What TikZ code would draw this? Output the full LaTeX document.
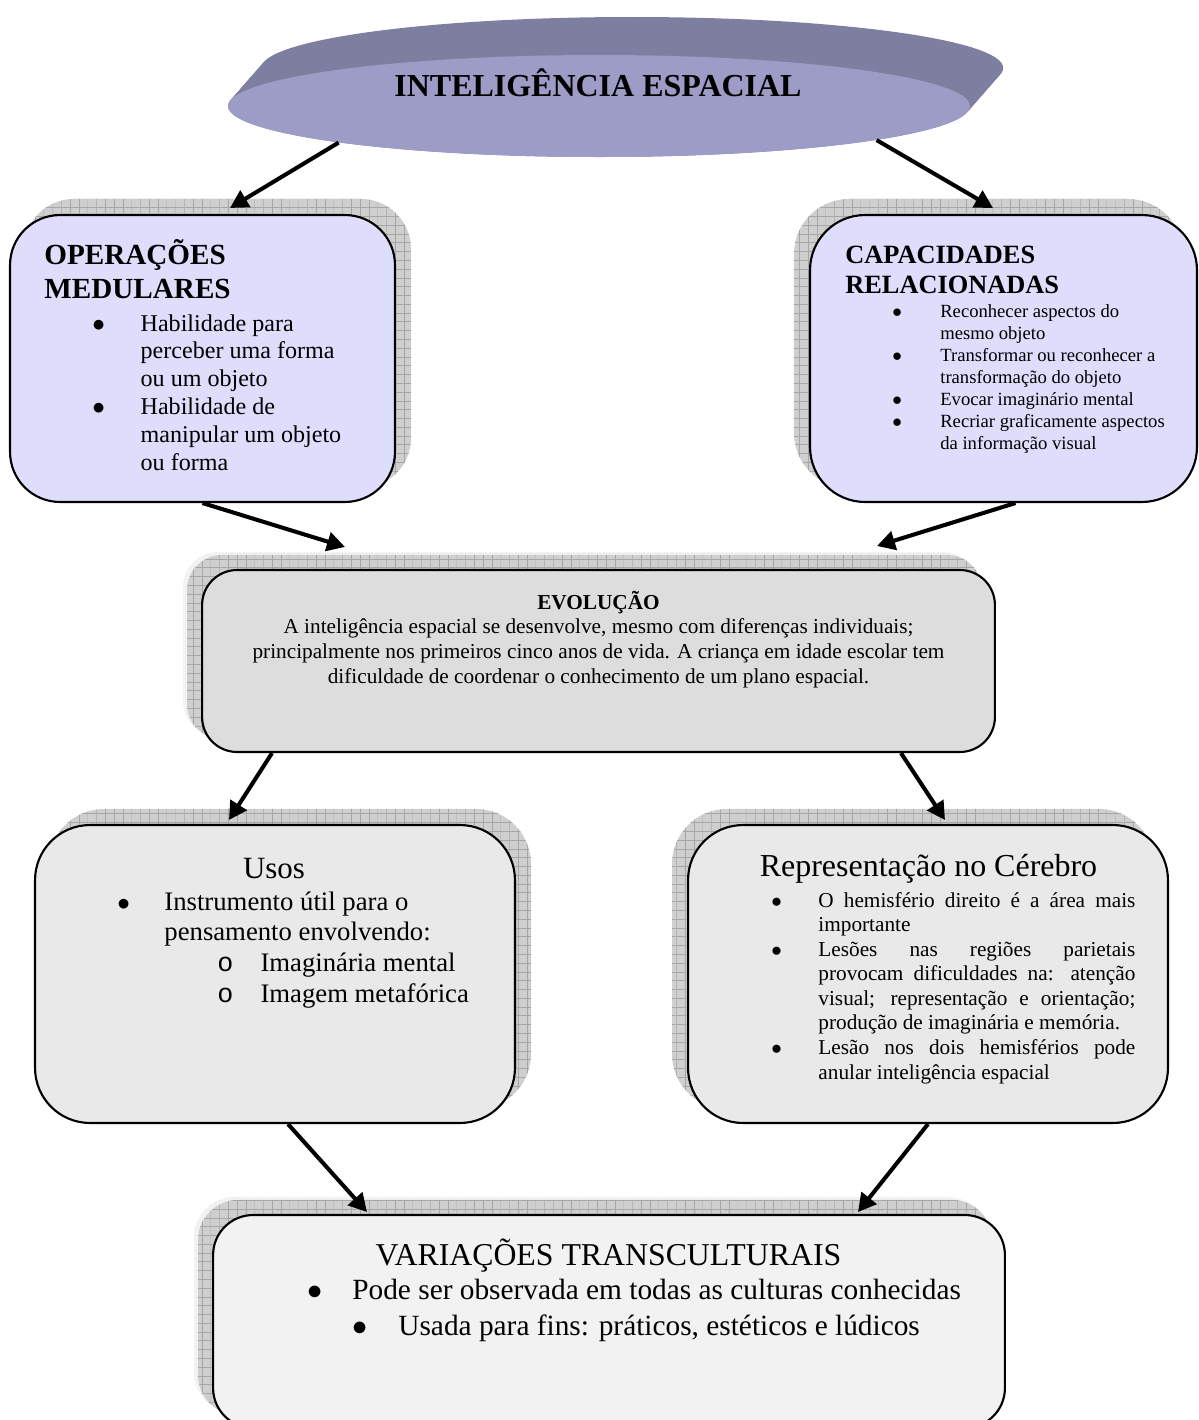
\documentclass[tikz,border=0pt]{standalone}
\usepackage{fontspec}
\setmainfont{Liberation Serif}
\newfontfamily\circfont{Liberation Mono}
\usepackage{tikz}
\usetikzlibrary{arrows.meta,shapes.geometric,backgrounds,patterns,patterns.meta}

\definecolor{diskface}{RGB}{156,156,198}
\definecolor{diskside}{RGB}{126,127,160}
\definecolor{lavender}{RGB}{222,222,252}
\definecolor{evogray}{RGB}{221,221,221}
\definecolor{usogray}{RGB}{233,233,233}
\definecolor{varigray}{RGB}{242,242,242}

\tikzdeclarepattern{
  name=shadowgrid,
  type=uncolored,
  bottom left={(-.1pt,-.1pt)},
  top right={(5.1pt,5.1pt)},
  tile size={(5pt,5pt)},
  code={
    \draw[line width=0.5pt] (0pt,0pt) -- (5pt,0pt) (0pt,0pt) -- (0pt,5pt);
  }
}

\newcommand{\setfs}[2]{\fontsize{#1}{#2}\selectfont}
\newcommand{\bulbox}[1]{\makebox[#1][l]{$\bullet$}}
\newcommand{\circbox}{\makebox[24.5pt][l]{\circfont o}}
\newcommand{\justline}[1]{\makebox[180.4pt][s]{#1}}
\newcommand{\bitem}[2]{\hbox{\bulbox{#1}#2}}
\newcommand{\contline}[2]{\hbox{\hskip#1\relax #2}}
\newcommand{\midline}[1]{\hbox to 15cm{\hfil#1\hfil}}

\tikzstyle{mapbox}=[draw,line width=1.2pt,inner sep=0pt]
\tikzstyle{gridshadow}=[fill=gray!38,postaction={pattern=shadowgrid,pattern color=gray!70}]
\tikzstyle{fadeshadow}=[fill=gray!10]
\tikzstyle{flowarrow}=[-{Triangle[length=0.36cm,width=0.38cm]},line width=2.3pt]
\tikzstyle{textblock}=[inner sep=0pt,anchor=base west]

\begin{document}
\begin{tikzpicture}[x=0.02cm,y=-0.02cm]
\useasboundingbox (0,0) rectangle (1199,1420);

% disk
\foreach \s in {0,0.05,...,1}
  \fill[diskside] (599+35*\s,106-40*\s) ellipse [x radius=371, y radius=51];
\node[ellipse,fill=diskface,minimum width=14.84cm,minimum height=2.04cm,inner sep=0pt] (title) at (599,106) {};
\node[textblock,anchor=base] (titletext) at (598,96) {\setfs{18.2}{21}\bfseries INTELIGÊNCIA ESPACIAL};

% boxes
\node[mapbox,fill=lavender,rounded corners=1cm,minimum width=7.7cm,minimum height=5.74cm] (ops) at (202.5,358.5) {};
\node[mapbox,fill=lavender,rounded corners=1.1cm,minimum width=7.74cm,minimum height=5.74cm] (caps) at (1003.5,358.5) {};
\node[mapbox,fill=evogray,rounded corners=0.7cm,minimum width=15.86cm,minimum height=3.64cm] (evo) at (598.5,661) {};
\node[mapbox,fill=usogray,rounded corners=1.1cm,minimum width=9.6cm,minimum height=5.96cm] (usos) at (275,974) {};
\node[mapbox,fill=usogray,rounded corners=1.1cm,minimum width=9.6cm,minimum height=5.96cm] (repr) at (928,974) {};
\node[mapbox,fill=varigray,rounded corners=0.8cm,minimum width=15.84cm,minimum height=4.26cm] (vari) at (609,1321.5) {};

\begin{scope}[on background layer]
\fill[gridshadow,rounded corners=1cm] ([shift={(15,-15)}]ops.south west) rectangle ([shift={(15,-15)}]ops.north east);
\fill[gridshadow,rounded corners=1.1cm] ([shift={(-15,-15)}]caps.south west) rectangle ([shift={(-15,-15)}]caps.north east);
\fill[fadeshadow,rounded corners=0.7cm] ([shift={(-18,-17)}]evo.south west) rectangle ([shift={(-18,-17)}]evo.north east);
\fill[gridshadow,rounded corners=0.7cm] ([shift={(-14,-14)}]evo.south west) rectangle ([shift={(-14,-14)}]evo.north east);
\fill[gridshadow,rounded corners=1.1cm] ([shift={(15,-15)}]usos.south west) rectangle ([shift={(15,-15)}]usos.north east);
\fill[gridshadow,rounded corners=1.1cm] ([shift={(-15,-15)}]repr.south west) rectangle ([shift={(-15,-15)}]repr.north east);
\fill[fadeshadow,rounded corners=0.8cm] ([shift={(-18,-17)}]vari.south west) rectangle ([shift={(-18,-17)}]vari.north east);
\fill[gridshadow,rounded corners=0.8cm] ([shift={(-14,-14)}]vari.south west) rectangle ([shift={(-14,-14)}]vari.north east);
\end{scope}

% texts
\node[textblock] (opshead) at (44,264) {\vtop{\setfs{16.6}{19.9}\bfseries
  \hbox{OPERAÇÕES}\hbox{MEDULARES}}};
\node[textblock] (opslist) at (92,331) {\vtop{\setfs{13.7}{15.9}
  \bitem{27.5pt}{Habilidade para}
  \contline{27.5pt}{perceber uma forma}
  \contline{27.5pt}{ou um objeto}
  \bitem{27.5pt}{Habilidade de}
  \contline{27.5pt}{manipular um objeto}
  \contline{27.5pt}{ou forma}}};

\node[textblock] (capshead) at (845,263) {\vtop{\setfs{15}{17.6}\bfseries
  \hbox{CAPACIDADES}\hbox{RELACIONADAS}}};
\node[textblock] (capslist) at (892,317) {\vtop{\setfs{10.6}{12.6}
  \bitem{27.3pt}{Reconhecer aspectos do}
  \contline{27.3pt}{mesmo objeto}
  \bitem{27.3pt}{Transformar ou reconhecer a}
  \contline{27.3pt}{transformação do objeto}
  \bitem{27.3pt}{Evocar imaginário mental}
  \bitem{27.3pt}{Recriar graficamente aspectos}
  \contline{27.3pt}{da informação visual}}};

\node[textblock,anchor=base] (evotext) at (598.5,609) {\vtop{\setfs{12.1}{14.2}
  \midline{\textbf{EVOLUÇÃO}}
  \midline{A inteligência espacial se desenvolve, mesmo com diferenças individuais;}
  \midline{principalmente nos primeiros cinco anos de vida. A criança em idade escolar tem}
  \midline{dificuldade de coordenar o conhecimento de um plano espacial.}}};

\node[textblock,anchor=base] (usoshead) at (274,878) {\setfs{17.6}{20}Usos};
\node[textblock] (usoslist) at (117,910) {\vtop{\setfs{15.2}{17.6}
  \bitem{26.8pt}{Instrumento útil para o}
  \contline{26.8pt}{pensamento envolvendo:}
  \contline{57pt}{\circbox Imaginária mental}
  \contline{57pt}{\circbox Imagem metafórica}}};

\node[textblock,anchor=base] (reprhead) at (928.5,876) {\setfs{18.2}{21}Representação no Cérebro};
\node[textblock] (reprlist) at (771,907) {\vtop{\setfs{12.1}{14}
  \bitem{26.8pt}{\justline{O hemisfério direito é a área mais}}
  \contline{26.8pt}{importante}
  \bitem{26.8pt}{\justline{Lesões nas regiões parietais}}
  \contline{26.8pt}{\justline{provocam dificuldades na: atenção}}
  \contline{26.8pt}{\justline{visual; representação e orientação;}}
  \contline{26.8pt}{produção de imaginária e memória.}
  \bitem{26.8pt}{\justline{Lesão nos dois hemisférios pode}}
  \contline{26.8pt}{anular inteligência espacial}}};

\node[textblock,anchor=base] (varihead) at (608.5,1265) {\setfs{18.1}{21}VARIAÇÕES TRANSCULTURAIS};
\node[textblock] (varione) at (307,1299) {\setfs{16.7}{20.5}\bulbox{25.6pt}Pode ser observada em todas as culturas conhecidas};
\node[textblock] (varitwo) at (352,1335) {\setfs{16.7}{20.5}\bulbox{26.2pt}Usada para fins: práticos, estéticos e lúdicos};

% arrow ends
\coordinate[shift={(27.5,-6)}] (opsin) at (ops.north);
\coordinate[shift={(-10.5,-6)}] (capsin) at (caps.north);
\coordinate[shift={(-253.5,-22)}] (evoinl) at (evo.north);
\coordinate[shift={(278.5,-23)}] (evoinr) at (evo.north);
\coordinate[shift={(-46,-4)}] (usosin) at (usos.north);
\coordinate[shift={(17,-4)}] (reprin) at (repr.north);
\coordinate[shift={(-242,-2)}] (variinl) at (vari.north);
\coordinate[shift={(249,-2)}] (variinr) at (vari.north);

\draw[flowarrow] (title.188) -- (opsin);
\draw[flowarrow] (title.353) -- (capsin);
\draw[flowarrow] (ops.south) -- (evoinl);
\draw[flowarrow] ([shift={(12,0)}]caps.south) -- (evoinr);
\draw[flowarrow] ([shift={(71,0)}]evo.south west) -- (usosin);
\draw[flowarrow] ([shift={(-95,0)}]evo.south east) -- (reprin);
\draw[flowarrow] ([shift={(13,0)}]usos.south) -- (variinl);
\draw[flowarrow] (repr.south) -- (variinr);

\end{tikzpicture}
\end{document}
